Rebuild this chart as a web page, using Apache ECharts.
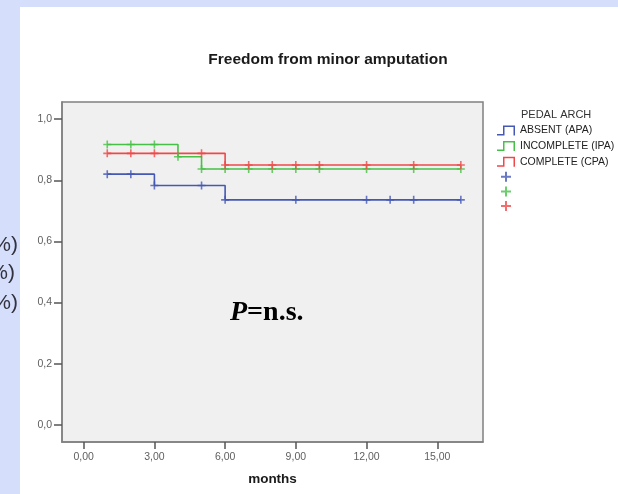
<!DOCTYPE html>
<html>
<head>
<meta charset="utf-8">
<script src="https://cdn.jsdelivr.net/npm/echarts@6/dist/echarts.min.js"></script>
<style>
    html, body { margin: 0; padding: 0; background: #fff; }
    #main { width: 618px; height: 494px; }
</style>
</head>
<body>
<div id="main"></div>
<script>
    // Kaplan-Meier steps: months / cumulative freedom
    const apaTimes = [1, 3, 6, 16];
    const apaSurv = [0.820, 0.783, 0.736, 0.736];
    const ipaTimes = [1, 4, 5, 16];
    const ipaSurv = [0.917, 0.877, 0.837, 0.837];
    const cpaTimes = [1, 6, 16];
    const cpaSurv = [0.888, 0.850, 0.850];

    // censored cases (+)
    const apaCensT = [1, 2, 3, 5, 6, 9, 12, 13, 14, 16];
    const apaCensV = [0.820, 0.820, 0.783, 0.783, 0.736, 0.736, 0.736, 0.736, 0.736, 0.736];
    const ipaCensT = [1, 2, 3, 4, 5, 6, 7, 8, 9, 10, 12, 14, 16];
    const ipaCensV = [0.917, 0.917, 0.917, 0.877, 0.837, 0.837, 0.837, 0.837, 0.837, 0.837, 0.837, 0.837, 0.837];
    const cpaCensT = [1, 2, 3, 5, 6, 7, 8, 9, 10, 12, 14, 16];
    const cpaCensV = [0.888, 0.888, 0.888, 0.888, 0.850, 0.850, 0.850, 0.850, 0.850, 0.850, 0.850, 0.850];

    const xTicks = [0, 3, 6, 9, 12, 15];
    const yTicks = [0, 0.2, 0.4, 0.6, 0.8, 1.0];
    const groupNames = ['ABSENT (APA)', 'INCOMPLETE (IPA)', 'COMPLETE (CPA)'];
    const censNames = ['APA censored', 'IPA censored', 'CPA censored'];
    const groupColors = ['#4458b4', '#46c046', '#f04848'];

    const font = "'Liberation Sans', Arial, sans-serif";
    const stepIcon = 'path://M0 8.5H6V0H18V10H16.5V1.5H7.5V10H0Z';
    const plusIcon = 'path://M4 0H6V4H10V6H6V10H4V6H0V4H4Z';

    function pairs(xs, ys) {
        return xs.map(function (x, i) { return [x, ys[i]]; });
    }

    const steps = [pairs(apaTimes, apaSurv), pairs(ipaTimes, ipaSurv), pairs(cpaTimes, cpaSurv)];
    const cens = [pairs(apaCensT, apaCensV), pairs(ipaCensT, ipaCensV), pairs(cpaCensT, cpaCensV)];

    let series = [];
    for (let i = 0; i < 3; i++) {
        series.push({
            name: groupNames[i],
            type: 'line',
            step: 'end',
            showSymbol: false,
            data: steps[i],
            color: groupColors[i],
            lineStyle: { width: 1.6, color: groupColors[i] },
            z: 2
        });
    }
    for (let i = 0; i < 3; i++) {
        series.push({
            name: censNames[i],
            type: 'scatter',
            symbol: plusIcon,
            symbolSize: 8,
            data: cens[i],
            color: groupColors[i],
            itemStyle: { color: groupColors[i] },
            z: 3
        });
    }

    let legendData = [];
    groupNames.forEach(function (n) { legendData.push({ name: n, icon: stepIcon }); });
    censNames.forEach(function (n) { legendData.push({ name: n, icon: plusIcon }); });

    let myChart = echarts.init(document.getElementById('main'));
    let option = {
        backgroundColor: '#ffffff',
        animation: false,
        title: {
            text: 'Freedom from minor amputation',
            left: 328,
            top: 52,
            textAlign: 'center',
            padding: 0,
            textStyle: { fontFamily: font, fontSize: 15.5, fontWeight: 'bold', color: '#1a1a1a' }
        },
        legend: {
            orient: 'vertical',
            left: 497,
            top: 125,
            padding: 0,
            itemWidth: 18,
            itemHeight: 10,
            itemGap: 4.6,
            selectedMode: false,
            data: legendData,
            itemStyle: { borderWidth: 0 },
            formatter: function (name) {
                return groupNames.indexOf(name) >= 0 ? name : '';
            },
            textStyle: { fontFamily: font, fontSize: 10.5, lineHeight: 10, color: '#222' }
        },
        grid: {
            left: 62,
            right: 135,
            top: 102,
            bottom: 52,
            show: true,
            backgroundColor: '#f0f0f0',
            borderColor: '#808080',
            borderWidth: 1.5
        },
        xAxis: {
            type: 'value',
            min: -0.92,
            max: 16.94,
            name: 'months',
            nameLocation: 'middle',
            nameGap: 30,
            nameTextStyle: { fontFamily: font, fontSize: 13.5, fontWeight: 'bold', color: '#1a1a1a' },
            axisLine: { onZero: false, lineStyle: { color: '#808080', width: 1.5 } },
            axisTick: { customValues: xTicks, length: 7, lineStyle: { color: '#555', width: 1.5 } },
            axisLabel: {
                customValues: xTicks,
                margin: 10,
                fontFamily: font,
                fontSize: 10.5,
                color: '#606060',
                formatter: function (v) { return v.toFixed(2).replace('.', ','); }
            },
            splitLine: { show: false }
        },
        yAxis: {
            type: 'value',
            min: -0.056,
            max: 1.056,
            axisLine: { show: true, onZero: false, lineStyle: { color: '#808080', width: 1.5 } },
            axisTick: { show: true, customValues: yTicks, length: 8, lineStyle: { color: '#555', width: 1.5 } },
            axisLabel: {
                customValues: yTicks,
                margin: 10,
                fontFamily: font,
                fontSize: 10.5,
                color: '#606060',
                formatter: function (v) { return v.toFixed(1).replace('.', ','); }
            },
            splitLine: { show: false }
        },
        graphic: [
            { type: 'rect', shape: { x: 0, y: 0, width: 20, height: 494 }, style: { fill: '#d5defa' }, silent: true },
            { type: 'rect', shape: { x: 0, y: 0, width: 618, height: 7 }, style: { fill: '#d5defa' }, silent: true },
            { type: 'text', x: 18, y: 245, style: { text: '%)', fill: '#333340', font: '21px ' + font, textAlign: 'right', textVerticalAlign: 'middle' } },
            { type: 'text', x: 15, y: 273, style: { text: '%)', fill: '#333340', font: '21px ' + font, textAlign: 'right', textVerticalAlign: 'middle' } },
            { type: 'text', x: 18, y: 303, style: { text: '%)', fill: '#333340', font: '21px ' + font, textAlign: 'right', textVerticalAlign: 'middle' } },
            { type: 'text', x: 521, y: 115, style: { text: 'PEDAL ARCH', fill: '#333', font: '11px ' + font, textAlign: 'left', textVerticalAlign: 'middle' } },
            {
                type: 'text', x: 230, y: 313, z: 10,
                style: {
                    text: '{i|P}{b|=n.s.}',
                    textVerticalAlign: 'middle',
                    rich: {
                        i: { fontFamily: "'Liberation Serif', 'Times New Roman', serif", fontSize: 28, fontStyle: 'italic', fontWeight: 'bold', color: '#111' },
                        b: { fontFamily: "'Liberation Serif', 'Times New Roman', serif", fontSize: 28, fontWeight: 'bold', color: '#111' }
                    }
                }
            }
        ],
        series: series
    };
    myChart.setOption(option);
</script>
</body>
</html>
